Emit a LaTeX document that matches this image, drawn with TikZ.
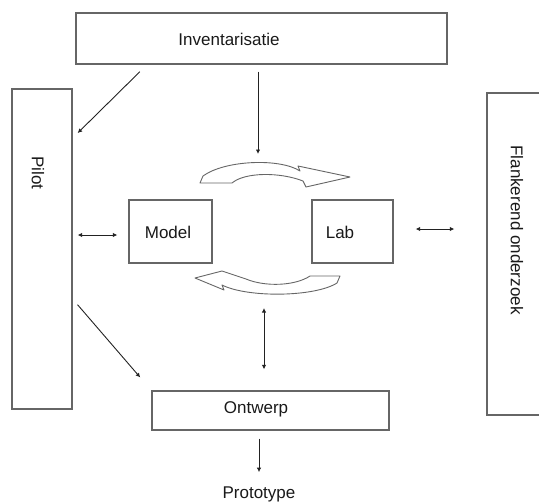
\documentclass[tikz,border=0pt]{standalone}
\usepackage{fontspec}
\setmainfont{Liberation Sans}
\usetikzlibrary{arrows.meta, positioning}
\definecolor{boxline}{HTML}{666666}
\definecolor{arrowline}{HTML}{222222}

\begin{document}
\begin{tikzpicture}[x=1pt, y=-1pt,
    every node/.style={font=\fontsize{17}{20}\selectfont, text=black!90},
    box/.style={rectangle, draw=boxline, line width=1.3pt, inner sep=0pt},
    lbl/.style={inner sep=0pt},
    flow/.style={-{Latex[length=4.5pt, width=4.5pt]}, line width=0.9pt, color=arrowline},
    both/.style={{Latex[length=4.5pt, width=4.5pt]}-{Latex[length=4.5pt, width=4.5pt]}, line width=0.9pt, color=arrowline},
    swoosh/.style={draw=boxline, fill=white, line width=0.9pt, line join=round}
]
\path[use as bounding box] (0,0) rectangle (539,504);
\clip (0,0) rectangle (539,504);

% Boxes
\node[box, minimum width=371pt, minimum height=51pt] (inv) at (261.5,38.5) {};
\node[box, minimum width=60pt, minimum height=320pt] (pilot) at (42,249) {};
\node[box, minimum width=73pt, minimum height=322pt] (flank) at (523.5,254) {};
\node[box, minimum width=83pt, minimum height=63pt] (model) at (170.5,231.5) {};
\node[box, minimum width=81pt, minimum height=63pt] (lab) at (352.5,231.5) {};
\node[box, minimum width=237pt, minimum height=39pt] (ontwerp) at (270.5,410.5) {};

% Texts
\node[lbl] (invtxt) at (229,39) {Inventarisatie};
\node[lbl, rotate=-90] (pilottxt) at (38,173) {Pilot};
\node[lbl, rotate=-90] (flanktxt) at (517,230) {Flankerend onderzoek};
\node[lbl] (modeltxt) at (168,232) {Model};
\node[lbl] (labtxt) at (340,232) {Lab};
\node[lbl] (ontwerptxt) at (256,409) {Ontwerp};
\node[lbl] (proto) at (259,494) {Prototype};

% Cycle between Model and Lab
\draw[swoosh] (200,183) -- (203,176) .. controls (225,160) and (280,158) .. (300,171)
    -- (298,166) -- (350,177) -- (306,187) -- (303,181)
    .. controls (280,172) and (245,172) .. (232,183) -- cycle;
\draw[swoosh] (340,276) -- (337,283) .. controls (315,297) and (248,298) .. (222,285)
    -- (224,290) -- (195,278) -- (222,271) -- (246,279)
    .. controls (265,287) and (295,286) .. (310,276) -- cycle;
\coordinate (cyctop) at (258,163);
\coordinate (cycbot) at (264,293);

% Connectors
\draw[flow, shorten <=10pt, shorten >=7pt] (inv.south -| 147,0) -- (pilot.east |- 0,138);
\draw[flow, shorten <=7pt, shorten >=9pt] (inv.south -| cyctop) -- (cyctop);
\draw[both, shorten <=5pt, shorten >=11pt] (pilot.east |- 0,235) -- (model.west |- 0,235);
\draw[both, shorten <=22pt, shorten >=32pt] (lab.east |- 0,229) -- (flank.west |- 0,229);
\draw[both, shorten <=15pt, shorten >=21pt] (cycbot) -- (ontwerp.north -| cycbot);
\draw[flow, shorten <=7.5pt, shorten >=17pt] (pilot.east |- 0,299) -- (ontwerp.north west);
\draw[flow, shorten <=8pt, shorten >=14pt] (ontwerp.south -| proto) -- (proto.north);
\end{tikzpicture}
\end{document}
